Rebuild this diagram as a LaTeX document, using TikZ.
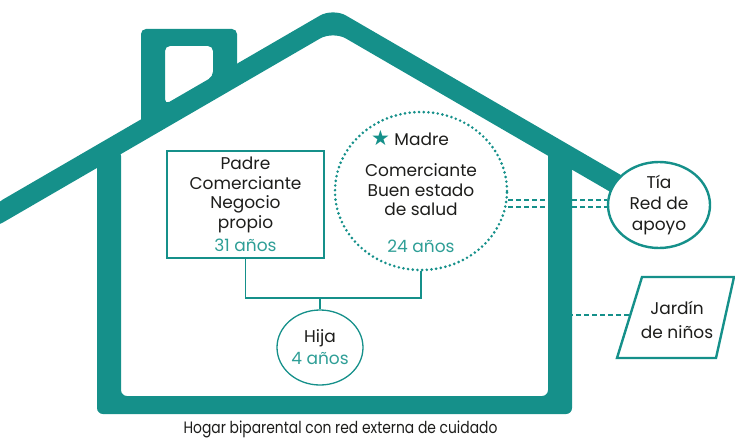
\documentclass[tikz,border=0pt]{standalone}
\usepackage{fontspec}
\setmainfont{Poppins}
\newfontfamily\symfont{DejaVu Sans}
\newfontfamily\capfont[FakeStretch=0.84]{Poppins}
\usetikzlibrary{shapes.geometric,backgrounds}

\definecolor{casa}{HTML}{15908A}
\definecolor{edad}{HTML}{2E9E96}
\definecolor{tinta}{HTML}{1D1D1B}

\tikzstyle{txt}=[text=tinta, align=center, font=\fontsize{17}{19.5}\selectfont]
\tikzstyle{member}=[txt, draw=casa, line width=1.3pt, inner sep=0pt]
\tikzstyle{outside}=[txt, draw=casa, line width=2.4pt, fill=white, inner sep=0pt]
\tikzstyle{tie}=[draw=casa, line width=1.3pt]
\tikzstyle{link}=[draw=casa, line width=1.2pt, dash pattern=on 5pt off 3pt]
\newcommand{\edad}[1]{\textcolor{edad}{#1}}

\begin{document}
\begin{tikzpicture}[x=1pt,y=-1pt]
\useasboundingbox (0,0) rectangle (735,441);

% HOUSE
\fill[casa, rounded corners=15pt] (-10,207) -- (333,8) -- (676,207) -- (676,230) -- (333,31) -- (-10,230) -- cycle;
\fill[casa, rounded corners=6pt] (97,150) -- (97,414) -- (572,414) -- (572,150) -- (548,150) -- (548,396) -- (121,396) -- (121,150) -- cycle;
\fill[casa, even odd rule, rounded corners=5pt] (141,125) -- (141,29) -- (237,29) -- (237,70) -- cycle
  (165,46) -- (213,46) -- (213,76.6) -- (165,104.4) -- cycle;

% FAMILY
\node[member, minimum width=157, minimum height=107] (padre) at (245.5,204.5)
  {Padre\\Comerciante\\Negocio\\propio\\[4pt]\edad{31 años}};
\node[ellipse, draw=casa, line width=2.9pt, dash pattern=on 0pt off 4.7pt, line cap=round,
  minimum width=172, minimum height=158] (madre) at (421,191) {};
\node[txt] (madretxt) at (madre.center)
  {{\symfont\fontsize{21}{21}\selectfont\textcolor{casa}{★}} Madre\hspace*{22pt}\\[12pt]Comerciante\\Buen estado\\de salud\\[17pt]\edad{24 años}};
\node[member, ellipse, minimum width=86, minimum height=75] (hija) at (320,347.5)
  {Hija\\[2.5pt]\edad{4 años}};

\coordinate (nudo) at (hija.north |- 0,298);
\draw[tie] (padre.south) |- (nudo) -| (madre.south);
\draw[tie] (nudo) -- (hija.north);

% OUTSIDE
\node[outside, ellipse, font=\fontsize{17}{21}\selectfont, minimum width=102, minimum height=86] (tia) at (659,205)
  {Tía\\Red de\\apoyo};
\draw[casa, line width=2.4pt, fill=white] (617,358) -- (642,277) -- (734,277) -- (716,358) -- cycle;
\node[txt] (jardin) at (677,320) {Jardín\\[5pt]de niños};
\coordinate (jl) at (630.3,315);

\coordinate (muro) at (560,315);
\begin{pgfonlayer}{background}
\draw[link] ([yshift=-9pt]madre.east) -- ([yshift=-9pt]madre.east -| tia.west);
\draw[link] ([yshift=-16pt]madre.east) -- ([yshift=-16pt]madre.east -| tia.west);
\draw[link] (muro) -- (jl);
\end{pgfonlayer}

\node[anchor=base, text=tinta, font=\capfont\fontsize{16.5}{16.5}\selectfont] (pie) at (340.5,433.5)
  {Hogar biparental con red externa de cuidado};

\end{tikzpicture}
\end{document}
